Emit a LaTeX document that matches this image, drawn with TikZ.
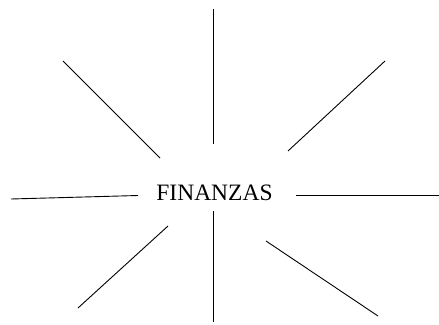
\documentclass[tikz,border=0pt]{standalone}
\usepackage{fontspec}
\setmainfont{Liberation Serif}
\begin{document}
\begin{tikzpicture}[x=1pt,y=-1pt,ray/.style={draw=black,line width=0.9pt}]
\useasboundingbox[fill=white] (0,0) rectangle (439,324);
\node[inner sep=0pt,font=\fontsize{23.5}{26}\selectfont] (fin) at (214.5,193.2) {FINANZAS};
\coordinate (t1) at (213,9);    \coordinate (t2) at (213,144);
\coordinate (ul1) at (63,61);   \coordinate (ul2) at (160,158);
\coordinate (ur1) at (385,61);  \coordinate (ur2) at (288,151);
\coordinate (l1) at (11,199);   \coordinate (l2) at (138,195.5);
\coordinate (r1) at (296,195);  \coordinate (r2) at (439,195);
\coordinate (b1) at (213,211);  \coordinate (b2) at (213,322);
\coordinate (ll1) at (168,226); \coordinate (ll2) at (78,308);
\coordinate (lr1) at (266,241); \coordinate (lr2) at (378,316);
\draw[ray] (t1) -- (t2);
\draw[ray] (ul1) -- (ul2);
\draw[ray] (ur1) -- (ur2);
\draw[ray] (l1) -- (l2);
\draw[ray] (r1) -- (r2);
\draw[ray] (b1) -- (b2);
\draw[ray] (ll1) -- (ll2);
\draw[ray] (lr1) -- (lr2);
\end{tikzpicture}
\end{document}
